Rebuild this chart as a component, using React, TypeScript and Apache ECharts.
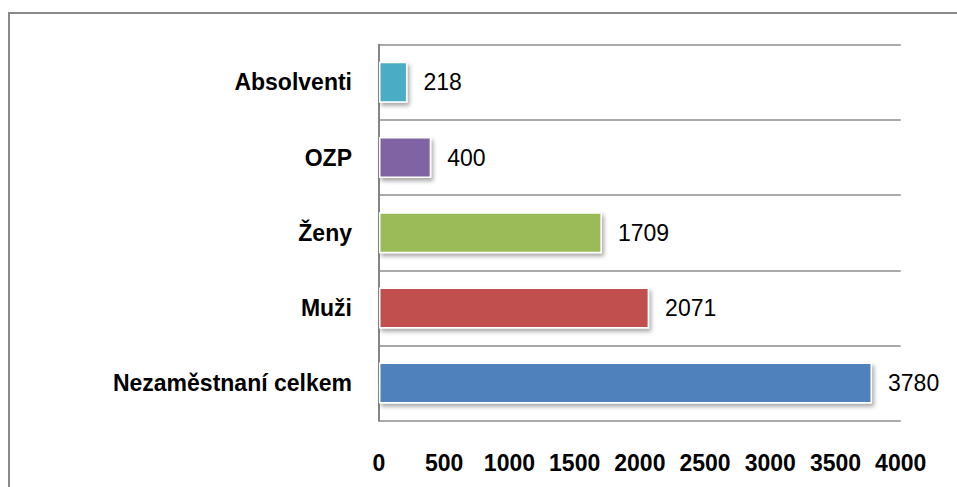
import React, { useEffect, useRef } from "react";
import * as echarts from "echarts";

const categories = ["Nezaměstnaní celkem", "Muži", "Ženy", "OZP", "Absolventi"];
const values = [3780, 2071, 1709, 400, 218];
const barColors = ["#4F81BD", "#C0504D", "#9BBB59", "#8064A2", "#4BACC6"];
const xMin = 0;
const xMax = 4000;
const xInterval = 500;

export default function App() {
  const ref = useRef<HTMLDivElement>(null);
  useEffect(() => {
    if (!ref.current) return;
    const chart = echarts.init(ref.current, null, { renderer: "svg" });
    const font = "'Liberation Sans', Arial, sans-serif";
    chart.setOption({
      animation: false,
      backgroundColor: "#ffffff",
      grid: { left: 379, top: 44.7, right: 56.3, bottom: 66.3, containLabel: false },
      graphic: [
        {
          type: "rect",
          shape: { x: 9, y: 13, width: 1200, height: 1000 },
          style: { fill: "none", stroke: "#8a8a8a", lineWidth: 2 },
          silent: true,
          z: -1,
        },
      ],
      xAxis: {
        type: "value",
        min: xMin,
        max: xMax,
        interval: xInterval,
        axisLine: { show: false },
        axisTick: { show: false },
        splitLine: { show: false },
        axisLabel: {
          margin: 31,
          color: "#000",
          fontFamily: font,
          fontWeight: "bold",
          fontSize: 23,
          formatter: (v: number) => String(v),
        },
      },
      yAxis: {
        type: "category",
        data: categories,
        axisLine: { show: true, lineStyle: { color: "#868686", width: 2 } },
        axisTick: { show: false },
        splitLine: { show: true, lineStyle: { color: "#8c8c8c", width: 1.5 } },
        axisLabel: {
          margin: 27,
          color: "#000",
          fontFamily: font,
          fontWeight: "bold",
          fontSize: 23,
        },
      },
      series: [
        {
          type: "bar",
          barWidth: 41,
          data: values.map((v, i) => ({
            value: v,
            itemStyle: { color: barColors[i] },
          })),
          itemStyle: {
            borderColor: "#ffffff",
            borderWidth: 1.5,
            shadowColor: "rgba(0,0,0,0.35)",
            shadowBlur: 4,
            shadowOffsetX: 2,
            shadowOffsetY: 3,
          },
          label: {
            show: true,
            position: "right",
            distance: 16,
            color: "#000",
            fontFamily: font,
            fontSize: 23,
            formatter: (p: any) => String(p.value),
          },
        },
      ],
    });
    return () => chart.dispose();
  }, []);
  return (
    <div
      ref={ref}
      style={{ position: "absolute", left: 0, top: 0, width: 957, height: 487 }}
    />
  );
}
